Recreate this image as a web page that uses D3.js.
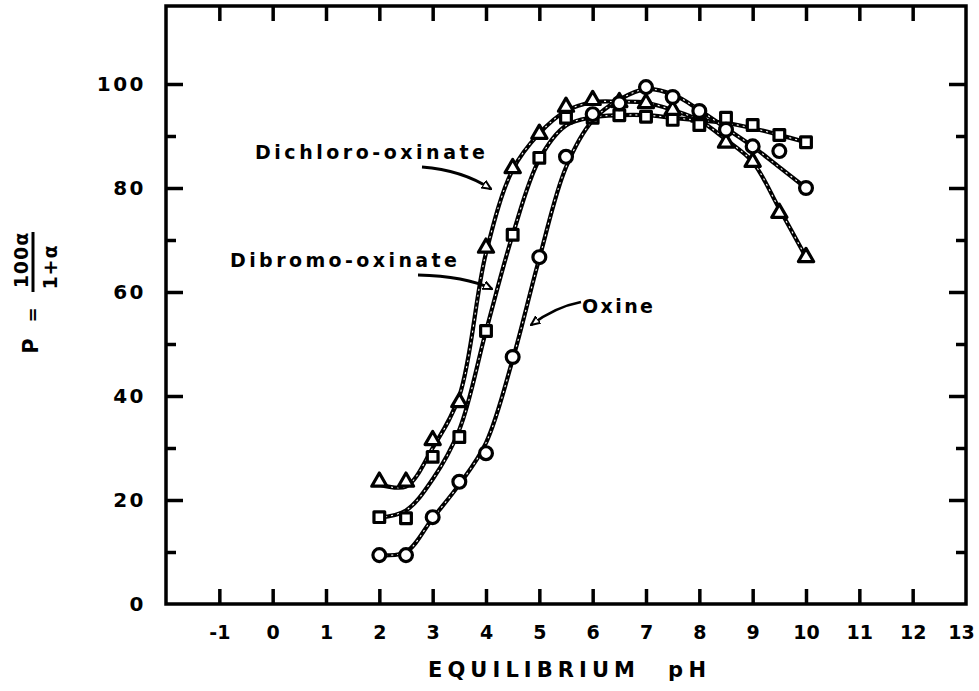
<!DOCTYPE html>
<html>
<head>
<meta charset="utf-8">
<script src="https://cdn.jsdelivr.net/npm/d3@7"></script>
<style>
  body { margin: 0; background: #fff; }
  svg { display: block; }
  text { font-family: "DejaVu Sans", "Liberation Sans", sans-serif; font-weight: bold; fill: #000; }
</style>
</head>
<body>
<svg id="chart" width="979" height="691"></svg>
<script>
// Equilibrium pH of each measurement
const pH = [2, 2.5, 3, 3.5, 4, 4.5, 5, 5.5, 6, 6.5, 7, 7.5, 8, 8.5, 9, 9.5, 10];

// Measured P = 100α/(1+α) values
const dichloroPts = [23.5, 23.5, 31.5, 38.8, 68.5, 83.8, 90.4, 95.6, 96.9, 96.5, 96.3, 95.0, 93.7, 88.7, 85.0, 75.2, 66.7];
const dibromoPts  = [16.7, 16.5, 28.3, 32.1, 52.5, 71.0, 85.8, 93.5, 93.5, 94.0, 93.7, 93.1, 92.1, 93.5, 92.1, 90.2, 88.8];
const oxinePts    = [9.4, 9.4, 16.7, 23.5, 29.0, 47.5, 66.7, 86.0, 94.2, 96.3, 99.4, 97.5, 94.8, 91.2, 88.0, 87.1, 80.0];

// Smooth curves drawn through each series
const dichloroCurve = [23.0, 22.6, 30.0, 40.0, 67.5, 83.5, 90.5, 94.8, 96.5, 96.6, 96.4, 95.0, 93.0, 89.3, 85.0, 76.0, 66.7];
const dibromoCurve  = [16.6, 18.0, 24.0, 33.5, 52.5, 71.0, 85.5, 92.0, 93.6, 94.0, 94.0, 93.5, 93.0, 92.5, 91.5, 90.2, 88.8];
const oxineCurve    = [9.4, 10.0, 16.5, 23.0, 31.0, 47.0, 66.5, 84.0, 93.0, 97.0, 99.0, 98.0, 95.0, 91.5, 88.0, 84.0, 80.0];

// Axis ticks
const xTickValues  = [-1, 0, 1, 2, 3, 4, 5, 6, 7, 8, 9, 10, 11, 12];
const xLabelValues = [-1, 0, 1, 2, 3, 4, 5, 6, 7, 8, 9, 10, 11, 12, 13];
const yMajorTicks  = [20, 40, 60, 80, 100];
const yMinorTicks  = [10, 30, 50, 70, 90];
const yLabelValues = [0, 20, 40, 60, 80, 100];

const svg = d3.select("#chart");

const plotLeft = 166, plotRight = 966, plotTop = 6, plotBottom = 604;
const x = d3.scaleLinear().domain([-2, 13]).range([plotLeft, plotRight]);
const y = d3.scaleLinear().domain([0, 115]).range([plotBottom, plotTop]);

function strip(g) {
  g.select(".domain").remove();
  g.selectAll(".tick line").attr("stroke", "#000").attr("stroke-width", 3.5);
}

// Inward ticks on all four sides
svg.append("g").attr("transform", `translate(0,${plotBottom})`)
  .call(d3.axisBottom(x).tickValues(xTickValues).tickSize(-15).tickFormat(""))
  .call(strip);
svg.append("g").attr("transform", `translate(0,${plotTop})`)
  .call(d3.axisTop(x).tickValues(xTickValues).tickSize(-15).tickFormat(""))
  .call(strip);
svg.append("g").attr("transform", `translate(${plotLeft},0)`)
  .call(d3.axisLeft(y).tickValues(yMajorTicks).tickSize(-17).tickFormat(""))
  .call(strip);
svg.append("g").attr("transform", `translate(${plotLeft},0)`)
  .call(d3.axisLeft(y).tickValues(yMinorTicks).tickSize(-10).tickFormat(""))
  .call(strip);
svg.append("g").attr("transform", `translate(${plotRight},0)`)
  .call(d3.axisRight(y).tickValues(yMajorTicks).tickSize(-17).tickFormat(""))
  .call(strip);
svg.append("g").attr("transform", `translate(${plotRight},0)`)
  .call(d3.axisRight(y).tickValues(yMinorTicks).tickSize(-10).tickFormat(""))
  .call(strip);

// Tick labels
const xLab = svg.append("g").attr("transform", `translate(0,${plotBottom})`)
  .call(d3.axisBottom(x).tickValues(xLabelValues).tickSize(0).tickPadding(22).tickFormat(d => String(d)));
xLab.select(".domain").remove();
xLab.selectAll("text").attr("font-size", 19).attr("font-family", null)
  .attr("dx", d => d === 13 ? -5 : 0);

const yLab = svg.append("g").attr("transform", `translate(${plotLeft},0)`)
  .call(d3.axisLeft(y).tickValues(yLabelValues).tickSize(0).tickPadding(20).tickFormat(d => String(d)));
yLab.select(".domain").remove();
yLab.selectAll("text").attr("font-size", 20).attr("font-family", null).attr("letter-spacing", 2.5);

// Plot frame
svg.append("rect")
  .attr("x", plotLeft).attr("y", plotTop)
  .attr("width", plotRight - plotLeft).attr("height", plotBottom - plotTop)
  .attr("fill", "none").attr("stroke", "#000").attr("stroke-width", 3.5);

// Curves
const series = [
  { pts: dichloroPts, curve: dichloroCurve, symbol: d3.symbolTriangle, size: 100 },
  { pts: dibromoPts,  curve: dibromoCurve,  symbol: d3.symbolSquare,   size: 115 },
  { pts: oxinePts,    curve: oxineCurve,    symbol: d3.symbolCircle,   size: 130 }
];

const line = d3.line()
  .x((d, i) => x(pH[i]))
  .y(d => y(d))
  .curve(d3.curveCatmullRom.alpha(0.5));

series.forEach(s => {
  svg.append("path").attr("d", line(s.curve))
    .attr("fill", "none").attr("stroke", "#000").attr("stroke-width", 4.2)
    .attr("stroke-linejoin", "round").attr("stroke-linecap", "round");
  svg.append("path").attr("d", line(s.curve))
    .attr("fill", "none").attr("stroke", "#fff").attr("stroke-width", 1.1)
    .attr("stroke-dasharray", "2 4");
});

// Data markers
series.forEach(s => {
  svg.append("g").selectAll("path")
    .data(s.pts)
    .join("path")
    .attr("transform", (d, i) => `translate(${x(pH[i])},${y(d)})`)
    .attr("d", d3.symbol(s.symbol, s.size)())
    .attr("fill", "#fff").attr("stroke", "#000").attr("stroke-width", 3.2)
    .attr("stroke-linejoin", "round");
});

// Curve labels with arrows
const defs = svg.append("defs");
defs.append("marker")
  .attr("id", "head").attr("viewBox", "0 -5 10 10")
  .attr("refX", 9).attr("refY", 0)
  .attr("markerWidth", 10).attr("markerHeight", 10)
  .attr("markerUnits", "userSpaceOnUse").attr("orient", "auto")
  .append("path").attr("d", "M0,-4L9,0L0,4Z")
  .attr("fill", "#fff").attr("stroke", "#000").attr("stroke-width", 2);

const notes = [
  { text: "Dichloro-oxinate", x: 255, y: 159, len: 230, arrow: "M422,167 Q462,170 491,189" },
  { text: "Dibromo-oxinate",  x: 230, y: 267, len: 227, arrow: "M418,275 Q465,276 492,289" },
  { text: "Oxine",            x: 582, y: 313, len: 71,  arrow: "M581,302 Q555,307 531,325" }
];
notes.forEach(n => {
  svg.append("path").attr("d", n.arrow)
    .attr("fill", "none").attr("stroke", "#000").attr("stroke-width", 2.8)
    .attr("marker-end", "url(#head)");
  svg.append("text").attr("x", n.x).attr("y", n.y)
    .attr("font-size", 19)
    .attr("textLength", n.len).attr("lengthAdjust", "spacing")
    .text(n.text);
});

// X-axis title
svg.append("text").attr("x", 428).attr("y", 677).attr("font-size", 21)
  .attr("textLength", 207).attr("lengthAdjust", "spacing").text("EQUILIBRIUM");
svg.append("text").attr("x", 668).attr("y", 677).attr("font-size", 21)
  .attr("textLength", 38).attr("lengthAdjust", "spacing").text("pH");

// Y-axis title: P = 100α / (1+α), rotated
const yt = svg.append("g").attr("transform", "translate(33,290) rotate(-90)");
yt.append("text").attr("x", -56).attr("y", 5).attr("font-size", 21)
  .attr("text-anchor", "middle").text("P");
yt.append("text").attr("x", -25).attr("y", 6).attr("font-size", 18)
  .attr("text-anchor", "middle").text("=");
yt.append("line").attr("x1", -2).attr("x2", 58).attr("y1", 0).attr("y2", 0)
  .attr("stroke", "#000").attr("stroke-width", 3);
yt.append("text").attr("x", 30).attr("y", -5).attr("font-size", 19)
  .attr("text-anchor", "middle").attr("letter-spacing", 1).text("100α");
yt.append("text").attr("x", 23).attr("y", 24).attr("font-size", 19)
  .attr("text-anchor", "middle").attr("letter-spacing", 1).text("1+α");
</script>
</body>
</html>
